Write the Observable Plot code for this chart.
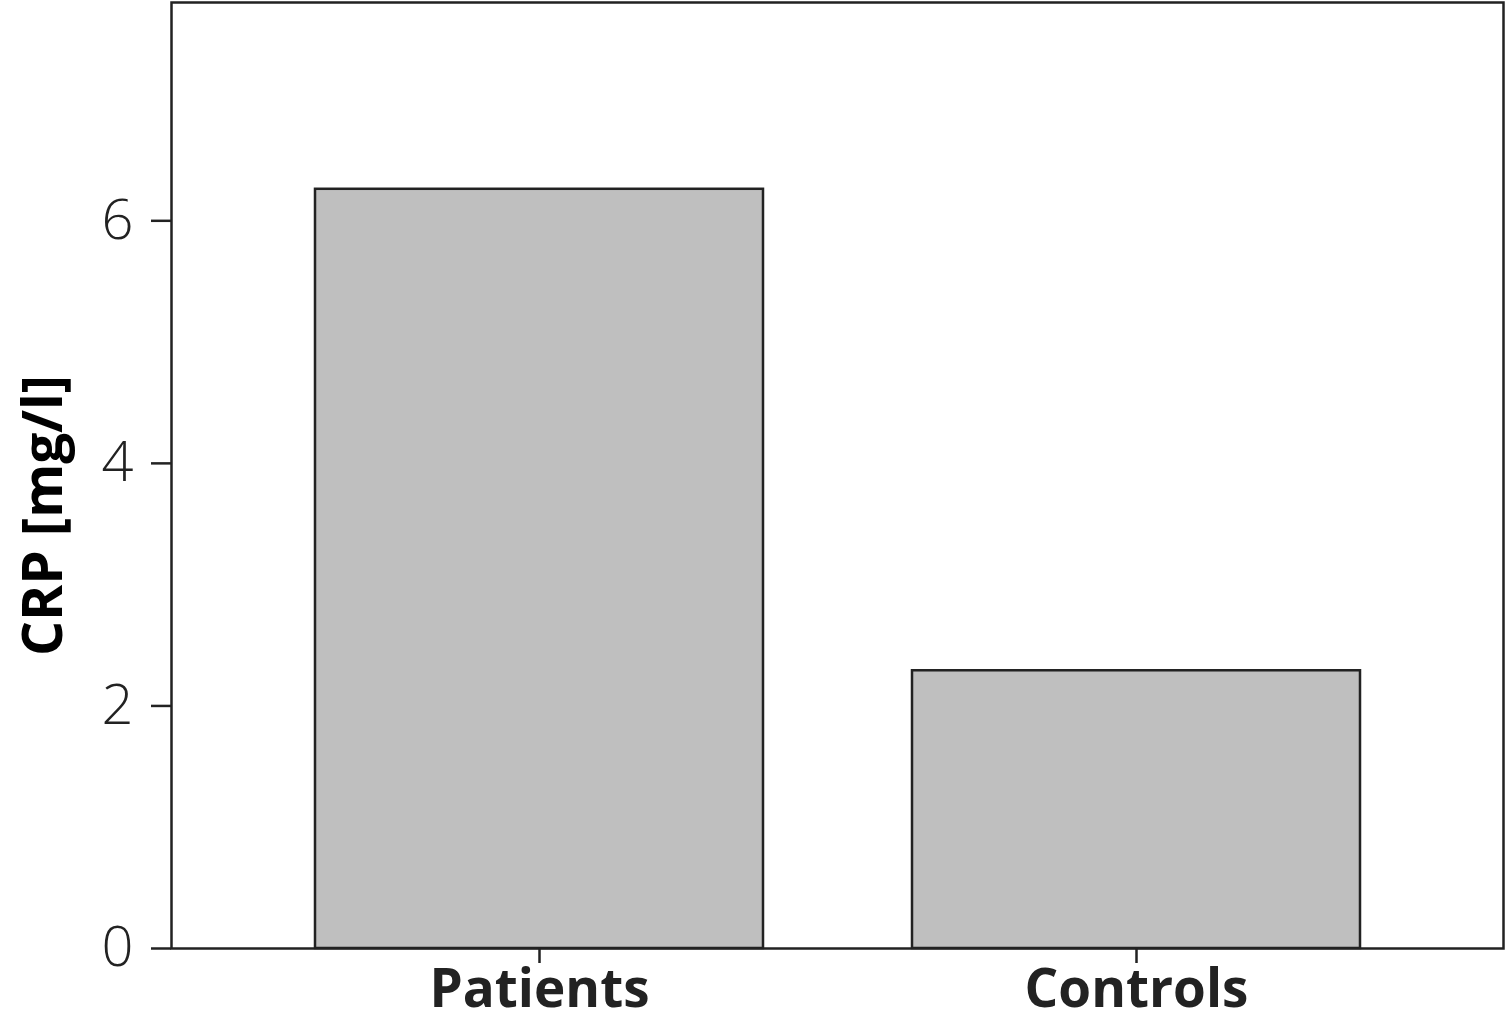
<!DOCTYPE html>
<html>
<head>
<meta charset="utf-8">
<script src="https://cdn.jsdelivr.net/npm/d3@7"></script>
<script src="https://cdn.jsdelivr.net/npm/@observablehq/plot@0.6"></script>
<style>
  html, body { margin: 0; padding: 0; background: #fff; }
  svg { display: block; }
</style>
</head>
<body>
<div id="chart"></div>
<script>
const categories = ["Patients", "Controls"];
const crpValues = [6.26, 2.29];
const yTicks = [0, 2, 4, 6];
const yLabel = "CRP [mg/l]";

const data = categories.map((c, i) => ({group: c, value: crpValues[i]}));

const chart = Plot.plot({
  width: 1505,
  height: 1025,
  marginLeft: 171,
  marginRight: 2,
  marginTop: 2,
  marginBottom: 77,
  style: {fontFamily: "'Open Sans', Lato, sans-serif", background: "#fff", color: "#222"},
  x: {domain: categories, paddingInner: 0.25, paddingOuter: 0.24, label: null},
  y: {domain: [0, 7.8], label: null},
  marks: [
    Plot.barY(data, {x: "group", y: "value", fill: "#bfbfbf", stroke: "#222", strokeWidth: 2.5}),
    Plot.frame({stroke: "#222", strokeWidth: 2.5}),
    Plot.axisY({ticks: yTicks, tickSize: 20, tickPadding: 18, fontSize: 56, fontWeight: 300, strokeWidth: 2.5, label: null}),
    Plot.axisX({tickSize: 15, tickPadding: 6, fontSize: 53, fontWeight: 700, strokeWidth: 2.5, label: null}),
    Plot.text([yLabel], {text: d => d, frameAnchor: "left", textAnchor: "middle", rotate: -90, dx: -127, dy: 40, fontSize: 55, fontWeight: 700, fill: "#000"})
  ]
});
document.getElementById("chart").appendChild(chart);
</script>
</body>
</html>
